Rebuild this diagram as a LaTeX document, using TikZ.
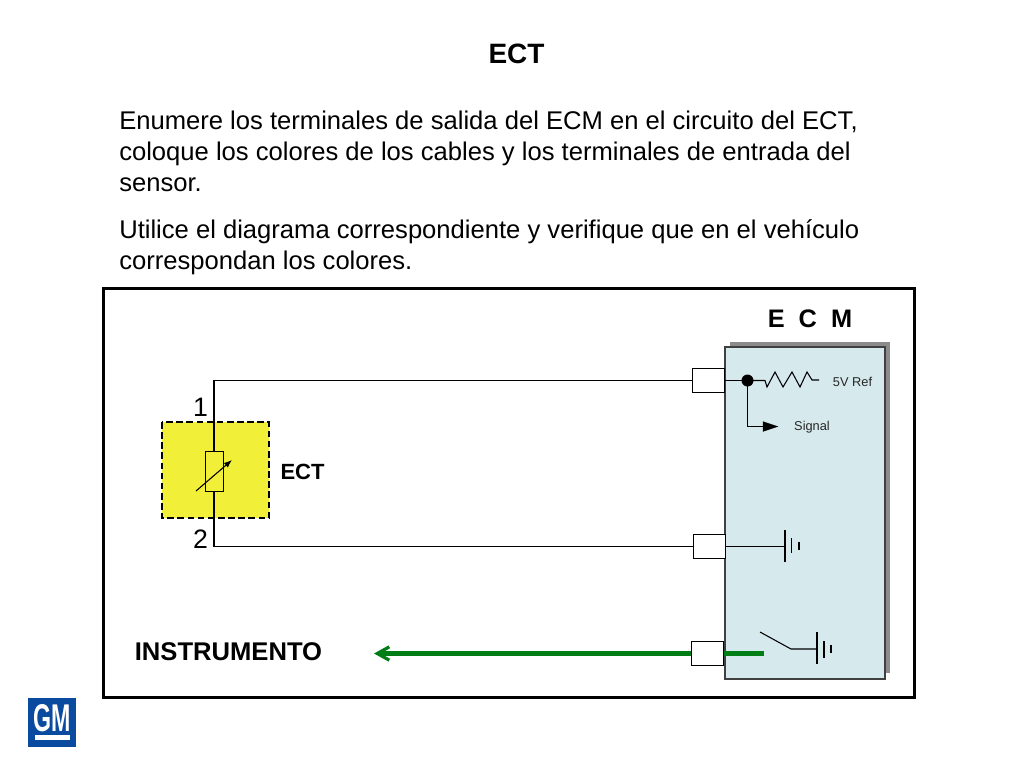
\documentclass[tikz,border=0pt]{standalone}
\usepackage{fontspec}
\setmainfont{Liberation Sans}
\usetikzlibrary{arrows.meta}
\definecolor{ecmfill}{RGB}{214,233,236}
\definecolor{sensoryellow}{RGB}{241,239,55}
\definecolor{wiregreen}{RGB}{0,125,20}
\definecolor{gmblue}{RGB}{10,75,160}
\tikzset{
  >=latex,
}
\tikzstyle{wire}=[line width=.8pt]
\tikzstyle{pin}=[draw,line width=.75pt,fill=white,minimum width=24pt,minimum height=18.7pt,inner sep=0]
\tikzstyle{greenwire}=[line width=3.2pt,wiregreen]
\tikzstyle{bold label}=[font=\bfseries,inner sep=0]
\tikzstyle{para}=[anchor=north west,align=left,inner sep=0,font=\fontsize{19.2}{23.25}\selectfont]
\tikzstyle{small label}=[inner sep=0,font=\fontsize{9.6}{11}\selectfont,text=black!85]
\begin{document}
\begin{tikzpicture}[x=.75pt,y=-.75pt]
    \useasboundingbox (0,0) rectangle (1024,768);
    % heading and text
    \node[bold label,font=\fontsize{21}{24}\selectfont\bfseries] (title) at (516.5,54) {ECT};
    \node[para] (textA) at (119,111) {Enumere los terminales de salida del ECM en el circuito del ECT,\\coloque los colores de los cables y los terminales de entrada del\\sensor.};
    \node[para] (textB) at (119,219) {Utilice el diagrama correspondiente y verifique que en el vehículo\\correspondan los colores.};
    % frame
    \draw[line width=2.25pt] (103.2,288.2) rectangle (914.2,697.2);
    % ECM
    \fill[black!45] (730,342) rectangle (890,673);
    \draw[line width=.9pt,black!75,fill=ecmfill] (725,347) rectangle (885,679);
    \node[bold label,font=\fontsize{19}{22}\selectfont\bfseries] (ecm) at (810,319) {E\kern10.5pt C\kern10.5pt M};
    % sensor
    \draw[line width=1pt,dash pattern=on 5pt off 2.6pt,fill=sensoryellow] (162,422) rectangle (269,518);
    \node[pin,minimum width=13.5pt,minimum height=30pt,fill=none] (sensor) at (214,471) {};
    \node[inner sep=0,font=\fontsize{20}{24}\selectfont] (pinone) at (200.5,407) {1};
    \node[inner sep=0,font=\fontsize{20}{24}\selectfont] (pintwo) at (200.5,539) {2};
    \node[bold label,font=\fontsize{16.5}{20}\selectfont\bfseries] (ect) at (302.5,471.5) {ECT};
    \coordinate (varA) at (196,491);
    \coordinate (varB) at (232,460);
    \draw[wire,-{Latex[length=6pt,width=4.5pt]}] (varA)--(varB);
    % connectors
    \node[pin] (connA) at (708,380.5) {};
    \node[pin] (connB) at (709,546.5) {};
    \node[pin] (connC) at (707,653.5) {};
    \coordinate (topcorner) at (214,380.5);
    \coordinate (botcorner) at (214,546.5);
    \draw[wire] (connA.west)--(topcorner)--(sensor.north);
    \draw[wire] (sensor.south)--(botcorner)--(connB.west);
    % 5V ref and signal
    \coordinate (dot) at (747.5,380.5);
    \coordinate (sigcorner) at (747.5,426.5);
    \node[small label] (ref) at (852.5,381.5) {5V Ref};
    \node[small label] (signal) at (812,427.5) {Signal};
    \coordinate (sigend) at (778,426.5);
    \draw[wire] (connA.east)--(dot);
    \fill (dot) circle (4.5pt);
    \draw[wire] (dot)--(765,380.5)--(767,387)--(775,372)--(783,387)--(792,372)--(800,387)--(807,372)--(812,380)--(819,380);
    \draw[wire] (dot)--(sigcorner)--(763,426.5);
    \draw[line width=.1pt,fill=black] (sigend)--(763,421.5)--(763,431.5)--cycle;
    % ground
    \coordinate (gndA) at (785,546.5);
    \draw[wire] (connB.east)--(gndA);
    \draw[wire] (785,530)--(785,562);
    \draw[line width=.9pt] (791.5,538)--(791.5,553);
    \draw[line width=1.2pt] (799,542)--(799,550);
    % switch
    \coordinate (swA) at (760,632);
    \coordinate (swB) at (791,649);
    \coordinate (gndB) at (817,649);
    \draw[wire] (swA)--(swB)--(gndB);
    \draw[wire] (817,632)--(817,664);
    \draw[line width=.9pt] (824,641)--(824,658);
    \draw[line width=1.2pt] (831,645)--(831,653);
    % instrument line
    \node[bold label,font=\fontsize{19.2}{22}\selectfont\bfseries] (instr) at (228.5,651.5) {INSTRUMENTO};
    \coordinate (instrtip) at (374,653.5);
    \coordinate (greenend) at (764,653.5);
    \draw[greenwire,-{Straight Barb[length=9pt,width=10pt,line width=2.4pt]}] (connC.west)--(instrtip);
    \draw[greenwire] (connC.east)--(greenend);
    % logo
    \fill[gmblue] (28,698) rectangle (76,747);
    \node[inner sep=0,text=white,xscale=.6,font=\fontsize{29}{30}\selectfont\bfseries] (gm) at (52.5,718.5) {GM};
    \fill[white] (35,735) rectangle (70,740);
\end{tikzpicture}
\end{document}
